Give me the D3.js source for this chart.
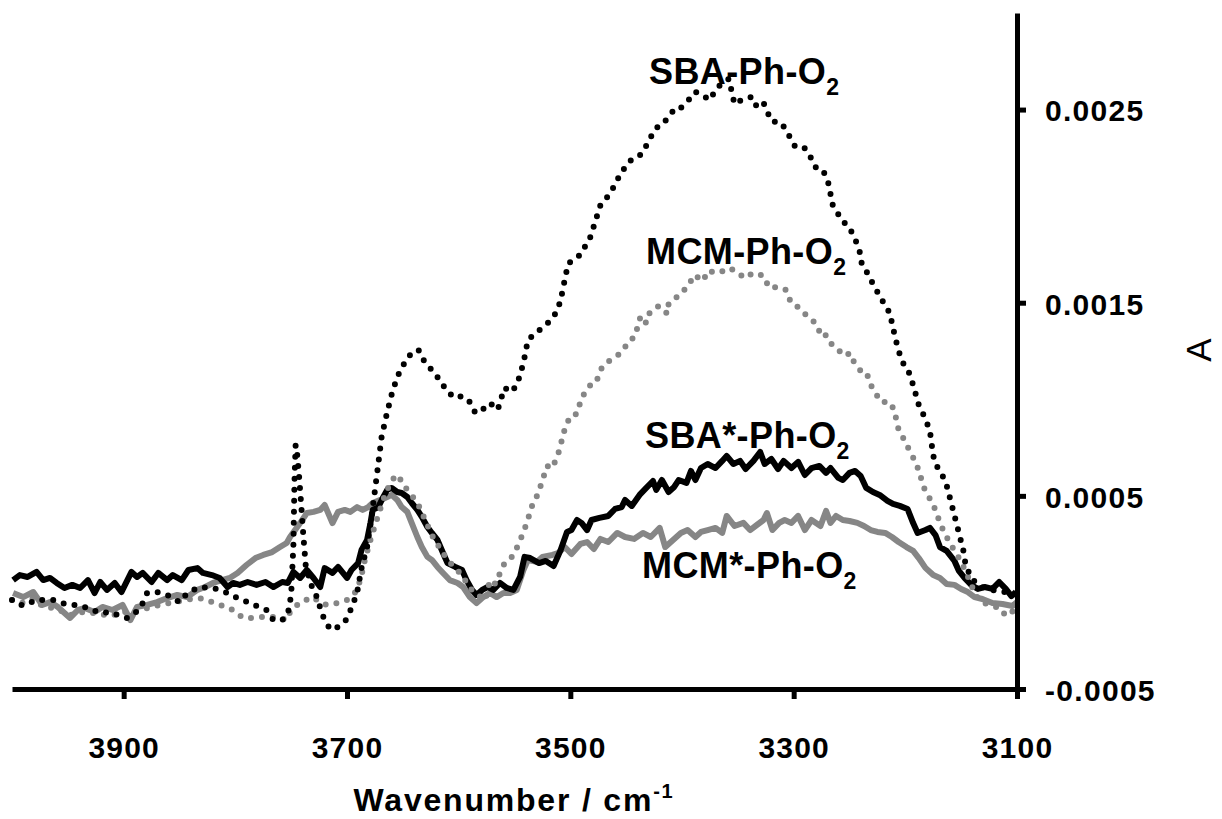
<!DOCTYPE html>
<html>
<head>
<meta charset="utf-8">
<script src="https://cdn.jsdelivr.net/npm/d3@7"></script>
<style>
  body { margin: 0; background: #fff; }
  svg { display: block; font-family: "Liberation Sans", Arial, sans-serif; }
</style>
</head>
<body>
<div id="chart"></div>
<script>
// wavenumber (cm-1), absorbance in units of 1e-4
var sbaPhO2 = [[4000,-0.39],[3993,-0.65],[3987,-0.65],[3979,-0.39],[3972,-0.39],[3963,-0.39],[3955,-0.55],[3948,-0.65],[3941,-0.65],[3932,-0.81],[3921,-1.07],[3912,-1.01],[3903,-1.22],[3897,-1.32],[3892,-1.17],[3885,-0.81],[3879,-0.03],[3870,0.02],[3861,-0.13],[3850,-0.50],[3843,-0.03],[3832,0.28],[3820,0.23],[3809,0.02],[3798,-0.29],[3789,-0.50],[3781,-0.70],[3772,-0.91],[3766,-1.43],[3758,-1.43],[3753,-1.12],[3750,-0.13],[3748,2.46],[3747,5.82],[3746,7.63],[3745,7.38],[3743,6.08],[3741,4.53],[3739,2.87],[3737,1.42],[3732,0.39],[3727,-0.24],[3722,-1.17],[3717,-1.74],[3712,-1.95],[3706,-1.69],[3701,-1.43],[3696,-0.81],[3691,-0.03],[3687,1.26],[3682,2.35],[3678,3.91],[3673,6.19],[3669,8.05],[3664,9.34],[3659,10.48],[3653,11.42],[3646,12.14],[3641,12.45],[3636,12.56],[3630,11.88],[3624,11.52],[3617,11.00],[3610,10.38],[3603,10.07],[3597,10.17],[3590,9.86],[3585,9.29],[3579,9.45],[3572,9.81],[3565,9.45],[3559,10.59],[3552,10.38],[3547,10.90],[3542,11.88],[3538,13.07],[3533,13.33],[3530,13.49],[3525,13.69],[3519,14.01],[3514,14.37],[3509,15.04],[3505,16.18],[3502,17.01],[3496,17.32],[3491,17.47],[3482,18.41],[3473,20.06],[3469,20.32],[3464,20.69],[3456,21.57],[3448,22.29],[3440,22.55],[3435,22.76],[3430,23.38],[3423,24.05],[3418,24.21],[3412,24.62],[3406,25.09],[3401,25.09],[3394,25.50],[3388,25.92],[3381,25.71],[3375,25.50],[3369,26.12],[3358,26.59],[3353,25.29],[3345,25.55],[3337,25.66],[3333,25.14],[3327,25.35],[3320,24.41],[3311,24.31],[3305,23.74],[3299,23.12],[3291,23.07],[3285,22.55],[3279,21.88],[3273,21.77],[3269,21.20],[3265,20.06],[3257,19.29],[3250,18.87],[3245,18.30],[3241,17.68],[3239,17.01],[3233,16.44],[3229,15.97],[3222,15.25],[3214,14.47],[3209,13.18],[3206,12.50],[3202,11.88],[3197,11.42],[3193,10.74],[3188,9.71],[3182,8.98],[3178,8.36],[3175,7.07],[3171,6.44],[3164,5.77],[3161,5.10],[3158,4.43],[3155,3.75],[3152,3.08],[3148,2.15],[3146,1.42],[3141,0.75],[3135,0.39],[3129,0.23],[3122,0.13],[3115,0.02],[3108,0.02],[3100,-0.13]];

var mcmPhO2 = [[4000,-0.39],[3991,-0.55],[3981,-0.29],[3972,-0.75],[3961,-0.81],[3948,-1.17],[3936,-1.01],[3926,-1.07],[3912,-1.22],[3899,-1.01],[3885,-0.91],[3872,-0.70],[3859,-0.55],[3845,-0.39],[3832,-0.29],[3821,-0.50],[3814,-0.65],[3805,-0.81],[3793,-1.32],[3784,-1.32],[3775,-1.27],[3763,-1.27],[3754,-1.43],[3751,-1.01],[3742,-0.50],[3730,-0.24],[3724,-0.55],[3717,-0.65],[3709,-0.55],[3700,-0.39],[3693,-0.03],[3688,0.64],[3684,1.68],[3679,2.72],[3672,4.01],[3666,5.05],[3660,5.82],[3654,6.08],[3650,5.56],[3644,5.20],[3636,4.53],[3630,3.75],[3624,2.97],[3617,2.30],[3610,1.68],[3603,1.26],[3597,0.90],[3590,0.23],[3583,-0.13],[3576,-0.39],[3572,0.64],[3567,0.44],[3560,1.42],[3554,1.68],[3548,2.30],[3543,2.97],[3539,3.59],[3534,4.53],[3529,5.10],[3524,5.98],[3521,6.55],[3516,6.44],[3509,7.48],[3507,8.10],[3503,8.77],[3499,9.19],[3494,9.24],[3490,10.07],[3482,10.74],[3477,10.85],[3473,11.52],[3469,11.83],[3464,12.04],[3458,12.24],[3452,12.61],[3447,13.07],[3443,13.18],[3440,13.69],[3437,14.32],[3432,13.95],[3429,14.47],[3421,14.83],[3413,14.42],[3412,14.94],[3407,15.15],[3401,15.51],[3395,15.82],[3389,16.44],[3381,16.13],[3377,16.65],[3367,16.54],[3358,16.80],[3352,16.65],[3344,16.28],[3336,16.54],[3327,16.39],[3322,15.77],[3314,15.82],[3307,15.66],[3302,14.94],[3296,14.78],[3290,14.42],[3284,14.16],[3279,13.80],[3275,13.23],[3271,13.33],[3265,12.76],[3259,12.50],[3253,12.24],[3250,12.40],[3246,11.93],[3240,11.47],[3235,11.42],[3231,10.74],[3222,9.86],[3214,9.86],[3210,9.45],[3206,8.41],[3201,7.90],[3197,7.43],[3190,6.65],[3182,5.20],[3176,4.68],[3172,4.11],[3169,3.59],[3164,2.97],[3158,2.35],[3152,1.78],[3146,1.11],[3141,0.39],[3135,-0.34],[3129,-0.55],[3122,-0.70],[3115,-0.81],[3110,-1.22],[3105,-1.01],[3100,-0.91]];

var sbaStarPhO2 = [[3999,0.64],[3993,0.90],[3986,0.80],[3978,1.06],[3972,0.64],[3966,0.75],[3960,0.49],[3953,0.23],[3946,0.39],[3939,0.23],[3932,0.64],[3926,-0.03],[3921,0.54],[3915,0.13],[3908,0.49],[3902,0.02],[3893,1.06],[3888,0.80],[3883,1.01],[3875,0.54],[3869,1.01],[3861,0.64],[3856,0.90],[3848,0.64],[3842,1.16],[3834,1.26],[3829,1.01],[3821,0.90],[3814,0.75],[3807,0.28],[3802,0.49],[3796,0.39],[3789,0.54],[3781,0.39],[3773,0.54],[3766,0.28],[3758,0.54],[3753,0.49],[3748,1.06],[3742,0.75],[3736,1.16],[3730,0.75],[3724,0.28],[3720,1.26],[3713,1.01],[3708,1.32],[3700,0.75],[3696,1.16],[3690,1.52],[3687,2.20],[3682,2.72],[3679,3.59],[3677,4.27],[3672,4.42],[3668,4.89],[3664,5.31],[3660,5.41],[3655,5.20],[3651,5.15],[3646,4.94],[3642,4.63],[3637,4.27],[3633,3.91],[3628,3.39],[3624,3.08],[3619,2.72],[3614,2.04],[3610,1.52],[3603,1.32],[3597,1.16],[3593,0.64],[3588,0.13],[3584,-0.13],[3579,0.13],[3574,0.28],[3569,0.13],[3563,0.49],[3557,0.23],[3551,0.13],[3545,0.80],[3541,1.84],[3536,1.78],[3528,1.52],[3522,1.63],[3515,1.37],[3509,2.15],[3503,3.13],[3499,3.23],[3494,3.75],[3490,3.60],[3485,3.23],[3481,3.75],[3474,3.86],[3466,3.96],[3460,4.32],[3454,4.42],[3451,4.79],[3445,4.48],[3438,5.05],[3432,5.41],[3426,5.77],[3423,5.31],[3418,5.82],[3412,5.20],[3407,5.46],[3403,5.82],[3396,5.67],[3392,6.29],[3388,5.82],[3383,6.44],[3377,6.65],[3370,6.44],[3364,6.81],[3360,7.07],[3354,6.65],[3348,6.81],[3343,6.39],[3336,6.81],[3330,7.27],[3326,6.65],[3320,6.91],[3314,6.39],[3309,6.81],[3302,6.44],[3296,6.76],[3290,6.08],[3284,6.44],[3277,6.55],[3271,6.19],[3267,6.44],[3260,5.93],[3256,5.82],[3250,6.19],[3245,6.29],[3240,6.03],[3235,5.41],[3229,5.20],[3223,5.05],[3216,4.74],[3211,4.58],[3205,4.48],[3198,4.32],[3193,3.59],[3189,3.08],[3182,3.23],[3178,3.34],[3173,2.97],[3169,2.35],[3163,2.15],[3156,1.63],[3152,1.11],[3147,0.75],[3141,0.39],[3135,0.18],[3129,0.28],[3122,0.18],[3116,0.54],[3110,0.18],[3105,-0.19],[3101,0.02]];

var mcmStarPhO2 = [[3999,-0.03],[3990,-0.24],[3981,0.02],[3973,-0.65],[3966,-0.50],[3959,-0.75],[3948,-1.32],[3941,-0.91],[3935,-0.81],[3926,-1.01],[3919,-0.75],[3910,-0.91],[3901,-0.65],[3894,-1.43],[3888,-0.75],[3879,-0.65],[3870,-0.50],[3861,-0.29],[3852,-0.13],[3843,-0.24],[3834,0.13],[3827,0.28],[3820,0.49],[3812,0.64],[3805,0.75],[3798,1.01],[3790,1.42],[3782,1.78],[3775,1.94],[3767,2.09],[3760,2.35],[3754,2.56],[3751,2.87],[3742,3.59],[3736,4.11],[3730,4.17],[3724,4.27],[3720,4.53],[3713,3.59],[3708,4.17],[3702,4.27],[3697,4.17],[3691,4.42],[3686,4.27],[3681,4.42],[3677,4.63],[3670,4.79],[3664,4.94],[3660,5.05],[3655,4.79],[3651,4.42],[3646,4.17],[3642,3.59],[3637,2.87],[3633,2.35],[3628,1.84],[3624,1.68],[3619,1.32],[3614,1.01],[3608,0.64],[3601,0.49],[3596,0.28],[3590,-0.24],[3584,-0.55],[3578,-0.24],[3572,-0.03],[3566,-0.24],[3560,-0.03],[3554,-0.03],[3548,0.13],[3542,1.16],[3538,1.68],[3530,1.58],[3525,1.84],[3516,1.94],[3511,2.04],[3505,2.35],[3499,1.99],[3491,2.51],[3485,2.61],[3479,2.25],[3473,2.77],[3466,2.61],[3458,3.08],[3451,2.87],[3443,2.77],[3435,3.08],[3428,2.87],[3420,3.34],[3415,2.35],[3407,2.77],[3401,3.08],[3395,3.23],[3388,2.87],[3383,3.13],[3377,3.23],[3370,3.34],[3364,3.08],[3360,3.96],[3353,3.44],[3345,3.60],[3339,3.23],[3333,3.49],[3327,3.75],[3324,4.11],[3319,3.23],[3313,3.60],[3308,3.75],[3302,3.60],[3296,3.96],[3290,3.23],[3284,3.75],[3276,3.44],[3271,4.22],[3267,3.60],[3262,3.96],[3256,3.75],[3250,3.70],[3243,3.60],[3237,3.44],[3231,3.23],[3225,3.13],[3218,3.08],[3212,2.87],[3206,2.61],[3199,2.35],[3193,2.15],[3188,1.78],[3182,1.27],[3175,0.90],[3169,0.75],[3163,0.44],[3156,0.39],[3150,0.18],[3144,0.02],[3138,-0.24],[3131,-0.34],[3122,-0.55],[3113,-0.60],[3104,-0.70],[3100,-0.50]];

var xTicks = [3900, 3700, 3500, 3300, 3100];
var yTicks = [-0.0005, 0.0005, 0.0015, 0.0025];
var seriesNames = ["SBA-Ph-O", "MCM-Ph-O", "SBA*-Ph-O", "MCM*-Ph-O"];

var width = 1222;
var height = 819;
var black = "#000000";
var grey = "#868686";

var svg = d3.select("#chart").append("svg")
    .attr("width", width)
    .attr("height", height);

svg.append("rect")
    .attr("width", width)
    .attr("height", height)
    .attr("fill", "#ffffff");

var x = d3.scaleLinear().domain([4000, 3100]).range([12, 1017]);
var y = d3.scaleLinear().domain([-0.0005, 0.003]).range([689, 13]);

// series labels sit under the curves
var labelPos = [[649, 84], [646, 264], [645, 448], [642, 578]];
seriesNames.forEach(function(name, i) {
    var t = svg.append("text")
        .attr("x", labelPos[i][0])
        .attr("y", labelPos[i][1])
        .style("font-size", "36px")
        .style("font-weight", "bold")
        .style("letter-spacing", "0.4px")
        .style("fill", black);
    t.append("tspan").text(name);
    t.append("tspan").attr("dy", 11).style("font-size", "23px").text("2");
});

var line = d3.line()
    .x(function(d) { return x(d[0]); })
    .y(function(d) { return y(d[1] * 1e-4); });

svg.append("path")
    .datum(mcmStarPhO2)
    .attr("d", line)
    .attr("fill", "none")
    .attr("stroke", grey)
    .attr("stroke-width", 6)
    .attr("stroke-linejoin", "round");

svg.append("path")
    .datum(sbaStarPhO2)
    .attr("d", line)
    .attr("fill", "none")
    .attr("stroke", black)
    .attr("stroke-width", 6)
    .attr("stroke-linejoin", "round");

svg.append("path")
    .datum(mcmPhO2)
    .attr("d", line)
    .attr("fill", "none")
    .attr("stroke", grey)
    .attr("stroke-width", 6)
    .attr("stroke-linecap", "round")
    .attr("stroke-dasharray", "0 11");

svg.append("path")
    .datum(sbaPhO2)
    .attr("d", line)
    .attr("fill", "none")
    .attr("stroke", black)
    .attr("stroke-width", 6)
    .attr("stroke-linecap", "round")
    .attr("stroke-dasharray", "0 11");

// axes
var xAxis = svg.append("g")
    .attr("transform", "translate(0,689)")
    .call(d3.axisBottom(x).tickValues(xTicks).tickSize(10).tickSizeOuter(0)
        .tickFormat(function(d) { return d; }));

var yAxis = svg.append("g")
    .attr("transform", "translate(1017,0)")
    .call(d3.axisRight(y).tickValues(yTicks).tickSize(9).tickSizeOuter(0)
        .tickFormat(function(d) { return d.toFixed(4); }));

[xAxis, yAxis].forEach(function(g) {
    g.select(".domain").attr("stroke", black).attr("stroke-width", 5);
    g.selectAll(".tick line").attr("stroke", black).attr("stroke-width", 5);
    g.selectAll(".tick text")
        .attr("fill", black)
        .style("font-family", "'Liberation Sans', Arial, sans-serif")
        .style("font-size", "30px")
        .style("font-weight", "bold");
});

xAxis.selectAll(".tick text")
    .attr("y", 48)
    .attr("dy", "0.71em")
    .style("letter-spacing", "1.2px");

yAxis.selectAll(".tick text")
    .attr("x", 28)
    .attr("dy", "0.38em")
    .style("letter-spacing", "1.3px");

// axis titles
var xTitle = svg.append("text")
    .attr("x", 514)
    .attr("y", 811)
    .attr("text-anchor", "middle")
    .style("font-size", "32px")
    .style("font-weight", "bold")
    .style("letter-spacing", "1.8px")
    .style("fill", black);
xTitle.append("tspan").text("Wavenumber / cm");
xTitle.append("tspan").attr("dy", -13).style("font-size", "20px").text("-1");

svg.append("text")
    .attr("transform", "translate(1211,350) rotate(-90)")
    .attr("text-anchor", "middle")
    .style("font-size", "35px")
    .style("fill", black)
    .text("A");
</script>
</body>
</html>
